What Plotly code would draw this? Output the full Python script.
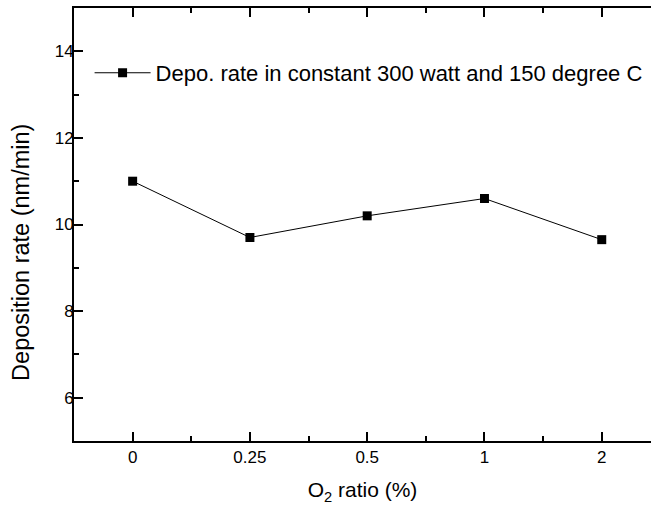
import plotly.graph_objects as go

categories = ["0", "0.25", "0.5", "1", "2"]
rates = [11.0, 9.7, 10.2, 10.6, 9.65]
series_name = "Depo. rate in constant 300 watt and 150 degree C"
y_ticks = [6, 8, 10, 12, 14]
x_title = "O<sub>2</sub> ratio (%)"
y_title = "Deposition rate (nm/min)"

xpos = list(range(len(categories)))
FONT = "Arial, Liberation Sans, sans-serif"

fig = go.Figure()
fig.add_trace(go.Scatter(
    x=xpos, y=rates, mode="lines+markers", name=series_name,
    line=dict(color="black", width=1),
    marker=dict(symbol="square", size=9, color="black"),
))

fig.update_layout(
    width=651, height=506,
    margin=dict(l=74, r=0, t=8, b=65),
    paper_bgcolor="white", plot_bgcolor="white",
    font=dict(family=FONT, color="black", size=17),
    showlegend=True,
    legend=dict(x=0.027, y=0.85, xanchor="left", yanchor="middle",
                bgcolor="rgba(0,0,0,0)", font=dict(size=22, family=FONT),
                itemwidth=56),
    annotations=[dict(text=y_title, textangle=-90, xref="paper", yref="paper",
                      x=-0.092, y=0.4365, xanchor="center", yanchor="middle",
                      showarrow=False, font=dict(size=23.5, family=FONT))],
)
fig.update_xaxes(
    range=[-0.5, 4.42], tickmode="array", tickvals=xpos, ticktext=categories,
    showline=True, linecolor="black", linewidth=2, mirror="ticks",
    ticks="inside", ticklen=9, tickwidth=1.5, tickcolor="black",
    minor=dict(tickmode="array", tickvals=[x + 0.5 for x in xpos[:-1]] + [-0.5],
               ticks="inside", ticklen=5, tickwidth=1.5, tickcolor="black"),
    showgrid=False, zeroline=False,
    tickfont=dict(size=17),
    title=dict(text=x_title, font=dict(size=21), standoff=16),
)
fig.update_yaxes(
    range=[5, 15], tickmode="array", tickvals=y_ticks,
    showline=True, linecolor="black", linewidth=2, mirror=False,
    ticks="inside", ticklen=9, tickwidth=1.5, tickcolor="black",
    minor=dict(dtick=1, tick0=5, ticks="inside", ticklen=5, tickwidth=1.5, tickcolor="black"),
    showgrid=False, zeroline=False,
    tickfont=dict(size=17), ticklabelstandoff=-5,
)

fig.write_html("out.html",
               post_script="document.body.style.margin='0';document.body.style.overflow='hidden';"
                           "document.documentElement.style.overflow='hidden';")
